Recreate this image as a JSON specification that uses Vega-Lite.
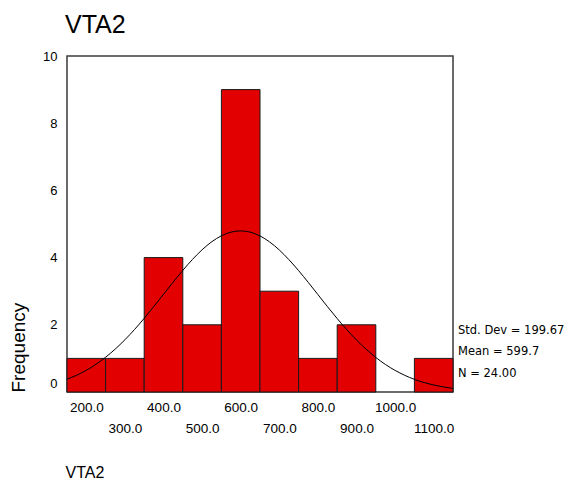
{
  "$schema": "https://vega.github.io/schema/vega-lite/v6.json",
  "width": 386,
  "height": 336,
  "autosize": {"type": "none"},
  "padding": {"left": 67, "top": 56, "right": 118, "bottom": 92},
  "background": "white",
  "title": {"text": "VTA2", "anchor": "start", "frame": "group", "fontSize": 25, "font": "Liberation Sans", "fontWeight": "normal", "color": "#000", "offset": 12, "dx": -2},
  "config": {
    "view": {"stroke": "#3a3a3a", "strokeWidth": 1.5},
    "axis": {"labelFont": "Liberation Sans", "titleFont": "Liberation Sans", "labelColor": "#000", "titleColor": "#000", "grid": false, "ticks": false, "domain": false, "titleFontWeight": "normal"}
  },
  "datasets": {
    "bins": [
      {"start": 150, "end": 250, "count": 1},
      {"start": 250, "end": 350, "count": 1},
      {"start": 350, "end": 450, "count": 4},
      {"start": 450, "end": 550, "count": 2},
      {"start": 550, "end": 650, "count": 9},
      {"start": 650, "end": 750, "count": 3},
      {"start": 750, "end": 850, "count": 1},
      {"start": 850, "end": 950, "count": 2},
      {"start": 1050, "end": 1150, "count": 1}
    ],
    "curve": [
      {"v": 150, "f": 0.381}, {"v": 175, "f": 0.499}, {"v": 200, "f": 0.646}, {"v": 225, "f": 0.824},
      {"v": 250, "f": 1.035}, {"v": 275, "f": 1.278}, {"v": 300, "f": 1.554}, {"v": 325, "f": 1.861},
      {"v": 350, "f": 2.193}, {"v": 375, "f": 2.546}, {"v": 400, "f": 2.908}, {"v": 425, "f": 3.270},
      {"v": 450, "f": 3.619}, {"v": 475, "f": 3.945}, {"v": 500, "f": 4.233}, {"v": 525, "f": 4.471},
      {"v": 550, "f": 4.649}, {"v": 575, "f": 4.758}, {"v": 600, "f": 4.795}, {"v": 625, "f": 4.757},
      {"v": 650, "f": 4.645}, {"v": 675, "f": 4.466}, {"v": 700, "f": 4.227}, {"v": 725, "f": 3.938},
      {"v": 750, "f": 3.612}, {"v": 775, "f": 3.262}, {"v": 800, "f": 2.900}, {"v": 825, "f": 2.537},
      {"v": 850, "f": 2.185}, {"v": 875, "f": 1.854}, {"v": 900, "f": 1.547}, {"v": 925, "f": 1.272},
      {"v": 950, "f": 1.029}, {"v": 975, "f": 0.819}, {"v": 1000, "f": 0.643}, {"v": 1025, "f": 0.496},
      {"v": 1050, "f": 0.377}, {"v": 1075, "f": 0.282}, {"v": 1100, "f": 0.208}, {"v": 1125, "f": 0.151},
      {"v": 1150, "f": 0.107}
    ],
    "stats": [
      {"label": "Std. Dev = 199.67", "x": 1150, "y": 1.815},
      {"label": "Mean = 599.7", "x": 1150, "y": 1.19},
      {"label": "N = 24.00", "x": 1150, "y": 0.55}
    ]
  },
  "layer": [
    {
      "data": {"name": "bins"},
      "mark": {"type": "rect", "fill": "#e20000", "stroke": "#1a1a1a", "strokeWidth": 1},
      "encoding": {
        "x": {"field": "start", "type": "quantitative",
          "scale": {"domain": [150, 1150], "nice": false, "zero": false},
          "axis": {"values": [200, 300, 400, 500, 600, 700, 800, 900, 1000, 1100], "format": ".1f", "labelFontSize": 13.5, "labelOverlap": false, "labelPadding": {"expr": "datum.value % 200 == 0 ? 8 : 29"}, "title": "VTA2", "titleFontSize": 16, "titleAnchor": "start", "titleAlign": "left", "titlePadding": 30, "titleX": -2}},
        "x2": {"field": "end"},
        "y": {"field": "count", "type": "quantitative",
          "scale": {"domain": [0, 10], "nice": false},
          "axis": {"values": [0, 2, 4, 6, 8, 10], "labelFontSize": 13, "labelPadding": 10, "labelOffset": {"expr": "datum.value == 0 ? -9 : 0"}, "title": "Frequency", "titleFontSize": 19, "titleAnchor": "start", "titlePadding": 14}},
        "y2": {"datum": 0}
      }
    },
    {
      "data": {"name": "curve"},
      "mark": {"type": "line", "color": "#000", "strokeWidth": 1, "interpolate": "monotone"},
      "encoding": {
        "x": {"field": "v", "type": "quantitative"},
        "y": {"field": "f", "type": "quantitative"}
      }
    },
    {
      "data": {"name": "stats"},
      "mark": {"type": "text", "align": "left", "baseline": "middle", "dx": 5, "font": "DejaVu Sans", "fontSize": 11.5, "color": "#000", "clip": false},
      "encoding": {
        "x": {"field": "x", "type": "quantitative"},
        "y": {"field": "y", "type": "quantitative"},
        "text": {"field": "label"}
      }
    }
  ]
}
